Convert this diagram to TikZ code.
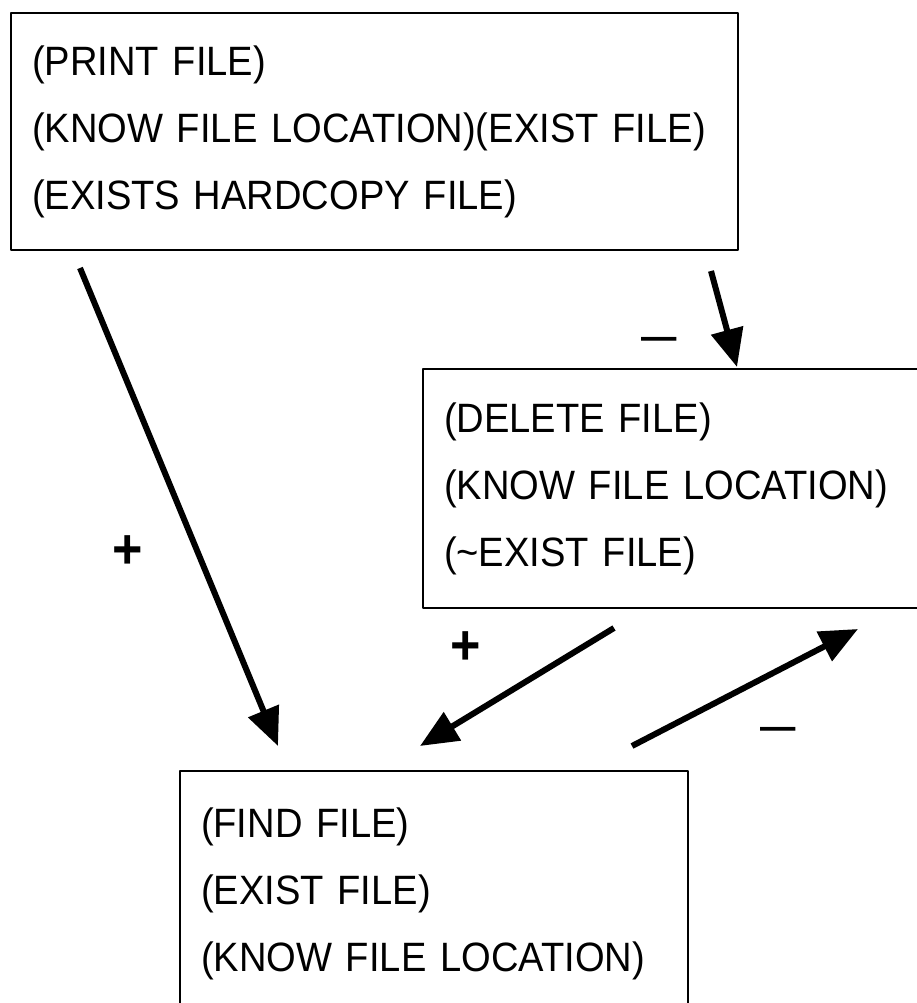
\documentclass[tikz,border=0pt]{standalone}
\usepackage{fontspec}
\setmainfont{Liberation Sans}[FakeStretch=0.93]
\usetikzlibrary{arrows.meta}
\tikzset{
  filebox/.style={draw,line width=2pt,anchor=north west,align=left,inner xsep=21pt,inner ysep=0pt,
    font=\fontsize{41}{67}\selectfont},
  plussign/.style={inner sep=0pt,font=\fontsize{56}{56}\selectfont\bfseries},
  minussign/.style={inner sep=0pt,anchor=base,font=\fontsize{38}{38}\selectfont\bfseries}
}
\begin{document}
\begin{tikzpicture}[line join=round,>={Triangle[length=38pt,width=32pt]},x=1pt,y=-1pt]
	\useasboundingbox (0,0) rectangle (917,1003);
	% the three operator boxes
	\node[filebox,text width=685pt,minimum height=237pt] (print) at (10,12)
		{(PRINT FILE)\\(KNOW FILE LOCATION)(EXIST FILE)\\(EXISTS HARDCOPY FILE)};
	\node[filebox,text width=476pt,minimum height=239pt] (delete) at (422,368)
		{(DELETE FILE)\\(KNOW FILE LOCATION)\\(\char`\~EXIST FILE)};
	\node[filebox,text width=466pt,minimum height=246pt] (find) at (179,770)
		{(FIND FILE)\\(EXIST FILE)\\(KNOW FILE LOCATION)};
	% free ends of the links
	\coordinate (pf1) at (80,268);   \coordinate (pf2) at (278,746);
	\coordinate (pd1) at (711,271);  \coordinate (pd2) at (737,367);
	\coordinate (df1) at (614,628);  \coordinate (df2) at (420,746);
	\coordinate (fd1) at (632,746);  \coordinate (fd2) at (858,629);
	\foreach \a/\b in {pf1/pf2,pd1/pd2,df1/df2,fd1/fd2}
		\draw[->,line width=6pt] (\a)--(\b);
	% signs on the links
	\node[plussign] (pfsign) at (128,552) {+};
	\node[plussign] (dfsign) at (466,648) {+};
	\node[minussign] (pdsign) at (659,349.5) {—};
	\node[minussign] (fdsign) at (778,739.5) {—};
\end{tikzpicture}
\end{document}
